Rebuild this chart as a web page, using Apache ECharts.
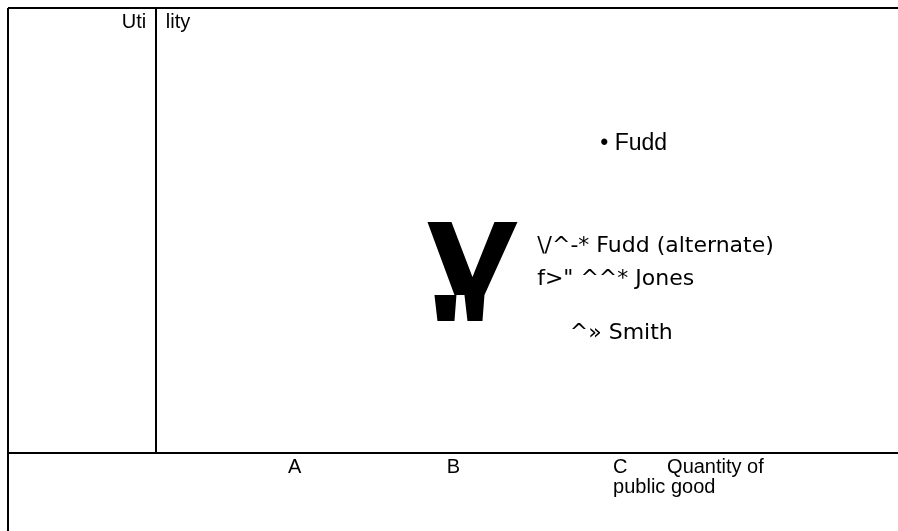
<!DOCTYPE html>
<html><head><meta charset="utf-8">
<script src="https://cdn.jsdelivr.net/npm/echarts@6/dist/echarts.min.js"></script>
<style>html,body{margin:0;padding:0;background:#fff}#c{width:898px;height:531px}</style>
</head><body><div id="c"></div>
<script>
// Axis tick values (data units) and their labels
const xTickValues = [17.8, 39.2, 61.6];
const xTickLabels = ['A', 'B', 'C'];
const xAxisTitle = ['Quantity of', 'public good'];
const yAxisTitle = ['Uti', 'lity'];

// Curve labels (text as printed) and their anchor points in data units
const curveLabels = ['• Fudd', '\\/^-* Fudd (alternate)', 'f>" ^^* Jones', '^» Smith'];
const curveLabelX = [59.8, 51.3, 51.3, 55.7];
const curveLabelY = [69.5, 46.5, 39.1, 26.8];

// Large glyph mark position
const glyphX = [42.65];
const glyphY = [40.8];

const chart = echarts.init(document.getElementById('c'), null, {renderer: 'canvas'});
const FONT = '"Liberation Sans", Arial, sans-serif';
const WIDE = '"DejaVu Sans", sans-serif';
const AX = 20;

chart.setOption({
  animation: false,
  backgroundColor: '#fff',
  grid: {left: 156, top: 8, right: 0, bottom: 78},
  xAxis: {
    type: 'value', min: 0, max: 100,
    axisLine: {show: true, lineStyle: {color: '#000', width: 2}},
    axisTick: {show: false},
    splitLine: {show: false},
    axisLabel: {
      customValues: xTickValues,
      align: 'left',
      margin: 4,
      fontFamily: FONT, fontSize: AX, color: '#000', lineHeight: 20,
      formatter: function (v) {
        const i = xTickValues.findIndex(t => Math.abs(t - v) < 1e-6);
        if (i < 0) return '';
        if (i === xTickLabels.length - 1) {
          return '{c|' + xTickLabels[i] + '}{q|' + xAxisTitle[0] + '}\n{p|' + xAxisTitle[1] + '}';
        }
        return xTickLabels[i];
      },
      rich: {
        c: {width: 54, fontFamily: FONT, fontSize: AX, color: '#000', lineHeight: 20},
        q: {fontFamily: FONT, fontSize: AX, color: '#000', lineHeight: 20},
        p: {fontFamily: FONT, fontSize: AX, color: '#000', lineHeight: 20}
      }
    }
  },
  yAxis: {
    type: 'value', min: 0, max: 100,
    axisLine: {show: true, lineStyle: {color: '#000', width: 2}},
    axisTick: {show: false},
    axisLabel: {show: false},
    splitLine: {show: false},
    name: '{a|' + yAxisTitle[0] + '}{g|}{b|' + yAxisTitle[1] + '}',
    nameLocation: 'end',
    nameGap: -14,
    nameTextStyle: {
      verticalAlign: 'middle',
      rich: {
        a: {width: 27, align: 'right', fontFamily: FONT, fontSize: 20, color: '#000'},
        g: {width: 17},
        b: {width: 27, align: 'left', fontFamily: FONT, fontSize: 20, color: '#000'}
      }
    }
  },
  graphic: [
    {type: 'line', shape: {x1: 8, y1: 8, x2: 898, y2: 8}, style: {stroke: '#000', lineWidth: 2}, silent: true},
    {type: 'line', shape: {x1: 8, y1: 8, x2: 8, y2: 531}, style: {stroke: '#000', lineWidth: 2}, silent: true},
    {type: 'line', shape: {x1: 8, y1: 453, x2: 156, y2: 453}, style: {stroke: '#000', lineWidth: 2}, silent: true}
  ],
  series: [
    {
      type: 'scatter',
      silent: true,
      symbol: 'path://M0 0 L24 0 L45 55 L67 0 L90 0 L57 73 L27 73 Z M7 73 L29 73 L27 99 L10 99 Z M37 73 L57 73 L55 99 L40 99 Z',
      symbolSize: [90, 99],
      itemStyle: {color: '#000', opacity: 1},
      data: glyphX.map((x, i) => [x, glyphY[i]])
    },
    {
      type: 'scatter',
      silent: true,
      symbolSize: 1,
      itemStyle: {color: '#fff', opacity: 0},
      label: {
        show: true, position: 'right', distance: 0,
        align: 'left', verticalAlign: 'middle',
        fontFamily: WIDE, fontSize: 22, color: '#000', opacity: 1
      },
      data: curveLabelX.map((x, i) => ({
        value: [x, curveLabelY[i]],
        label: i === 0
          ? {formatter: curveLabels[i], fontFamily: FONT, fontSize: 23, color: '#000', opacity: 1}
          : {formatter: curveLabels[i], opacity: 1}
      }))
    }
  ]
});
</script></body></html>
